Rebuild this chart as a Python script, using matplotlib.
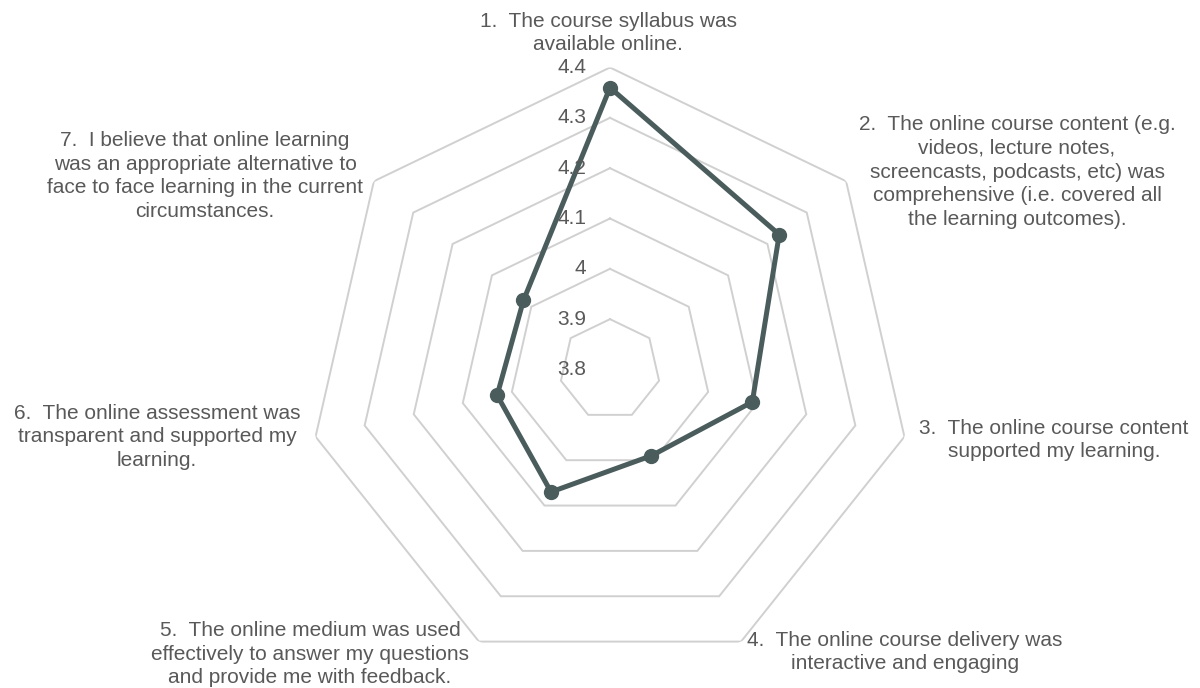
import numpy as np
import matplotlib
matplotlib.use("Agg")
import matplotlib.pyplot as plt

categories = [
    "1.  The course syllabus was\navailable online.",
    "2.  The online course content (e.g.\nvideos, lecture notes,\nscreencasts, podcasts, etc) was\ncomprehensive (i.e. covered all\nthe learning outcomes).",
    "3.  The online course content\nsupported my learning.",
    "4.  The online course delivery was\ninteractive and engaging",
    "5.  The online medium was used\neffectively to answer my questions\nand provide me with feedback.",
    "6.  The online assessment was\ntransparent and supported my\nlearning.",
    "7.  I believe that online learning\nwas an appropriate alternative to\nface to face learning in the current\ncircumstances.",
]
values = [4.36, 4.23, 4.09, 3.99, 4.07, 4.03, 4.02]
ticks = [3.8, 3.9, 4.0, 4.1, 4.2, 4.3, 4.4]
tick_labels = ["3.8", "3.9", "4", "4.1", "4.2", "4.3", "4.4"]

# label positions in pixels (x, y from top)
label_pos = [(608, 33), (1017, 172), (1054, 440), (905, 652),
             (310, 654), (157, 437), (205, 176)]

W, H = 1200, 688
fig = plt.figure(figsize=(W / 100, H / 100), dpi=100)
fig.patch.set_facecolor("white")

cx, cy, R = 610, 369.5, 302
ax = fig.add_axes([(cx - R) / W, 1 - (cy + R) / H, 2 * R / W, 2 * R / H], projection="polar")
ax.set_theta_zero_location("N")
ax.set_theta_direction(-1)
ax.set_ylim(ticks[0], ticks[-1])
ax.grid(False)
ax.spines["polar"].set_visible(False)
ax.set_xticks([])
ax.set_yticks([])
ax.patch.set_alpha(0)

n = len(categories)
theta = np.linspace(0, 2 * np.pi, n, endpoint=False)
theta_c = np.append(theta, theta[0])

grid_color = "#d0d0d0"
for t in ticks[1:]:
    ax.plot(theta_c, [t] * (n + 1), color=grid_color, lw=1.4, zorder=1, solid_joinstyle="miter")

vals_c = values + values[:1]
line_color = "#4a5c5c"
ax.plot(theta_c, vals_c, color=line_color, lw=3.6, zorder=3, solid_joinstyle="round")
ax.plot(theta, values, "o", color=line_color, ms=10, zorder=4)

text_color = "#595959"
font = "Liberation Sans"
for t, lab in zip(ticks, tick_labels):
    ax.annotate(lab, xy=(0, t), xytext=(-24, 0), textcoords="offset pixels",
                ha="right", va="center", fontsize=15, color=text_color,
                family=font, zorder=5, annotation_clip=False)

for lab, (x, y) in zip(categories, label_pos):
    fig.text(x / W, 1 - y / H, lab, ha="center", va="center", fontsize=15,
             color=text_color, family=font, linespacing=1.33, multialignment="center")

fig.savefig("out.png", dpi=100, facecolor="white")
